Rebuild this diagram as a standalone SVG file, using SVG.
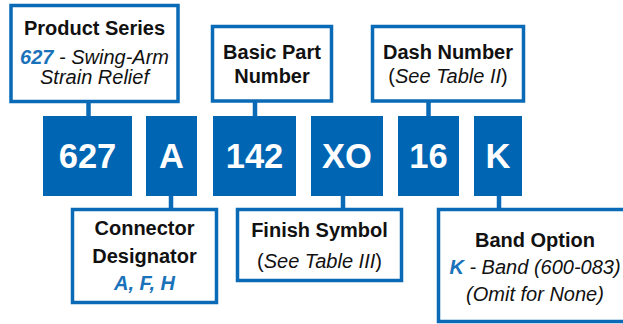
<svg xmlns="http://www.w3.org/2000/svg" width="623" height="324" viewBox="0 0 623 324">
<style>
.box{fill:#fff;stroke:#0a6ab6;stroke-width:3.5}
.blk{fill:#0066b3}
.code{font-family:"Liberation Sans",Arial,sans-serif;font-weight:bold;font-size:34.5px;fill:#fff;text-anchor:middle}
.t{font-family:"Liberation Sans",Arial,sans-serif;font-size:20px;fill:#111;text-anchor:middle}
.b{font-weight:bold}
.i{font-style:italic}
.blue{fill:#1a72ba;font-weight:bold;font-style:italic}
.conn{stroke:#0a6ab6;stroke-width:4.5;fill:none}
</style>
<rect width="623" height="324" fill="#fff"/>
<g id="connectors">
<line class="conn" x1="88.5" y1="101" x2="88.5" y2="117"/>
<line class="conn" x1="255" y1="101" x2="255" y2="117"/>
<line class="conn" x1="428.5" y1="101" x2="428.5" y2="117"/>
<line class="conn" x1="171" y1="195" x2="171" y2="210"/>
<line class="conn" x1="343" y1="195" x2="343" y2="210"/>
<line class="conn" x1="499" y1="195" x2="499" y2="210"/>
</g>
<g id="product-series">
<rect class="box" x="11" y="5.5" width="167" height="96"/>
<text class="t b" x="94.5" y="34.5">Product Series</text>
<text class="t" x="94.5" y="63.5"><tspan class="blue">627</tspan><tspan class="i"> - Swing-Arm</tspan></text>
<text class="t i" x="94.5" y="84">Strain Relief</text>
</g>
<g id="basic-part-number">
<rect class="box" x="212.5" y="26.5" width="119" height="74.5"/>
<text class="t b" x="272" y="59">Basic Part</text>
<text class="t b" x="272" y="82.5">Number</text>
</g>
<g id="dash-number">
<rect class="box" x="372.5" y="26.5" width="151" height="74.5"/>
<text class="t b" x="448" y="59">Dash Number</text>
<text class="t" x="448" y="82.5">(<tspan class="i">See Table II</tspan>)</text>
</g>
<g id="code-627"><rect class="blk" x="43" y="116" width="89" height="80"/><text class="code" x="87.5" y="168">627</text></g>
<g id="code-A"><rect class="blk" x="146" y="116" width="51" height="80"/><text class="code" x="171.5" y="168">A</text></g>
<g id="code-142"><rect class="blk" x="213" y="116" width="83" height="80"/><text class="code" x="254.5" y="168">142</text></g>
<g id="code-XO"><rect class="blk" x="311" y="116" width="72" height="80"/><text class="code" x="347" y="168">XO</text></g>
<g id="code-16"><rect class="blk" x="398" y="116" width="61" height="80"/><text class="code" x="428.5" y="168">16</text></g>
<g id="code-K"><rect class="blk" x="474" y="116" width="48" height="80"/><text class="code" x="498" y="168">K</text></g>
<g id="connector-designator">
<rect class="box" x="72.5" y="209.5" width="144" height="93"/>
<text class="t b" x="144.5" y="235">Connector</text>
<text class="t b" x="144.5" y="262.5">Designator</text>
<text class="t blue" x="144.5" y="290">A, F, H</text>
</g>
<g id="finish-symbol">
<rect class="box" x="237.5" y="209.5" width="164" height="71"/>
<text class="t b" x="319.5" y="236.5">Finish Symbol</text>
<text class="t" x="319.5" y="268">(<tspan class="i">See Table III</tspan>)</text>
</g>
<g id="band-option">
<rect class="box" x="438.5" y="209.5" width="190" height="112"/>
<text class="t b" x="535" y="247">Band Option</text>
<text class="t" x="535" y="274"><tspan class="blue">K</tspan><tspan class="i"> - Band (600-083)</tspan></text>
<text class="t i" x="535" y="300.5">(Omit for None)</text>
</g>
</svg>
